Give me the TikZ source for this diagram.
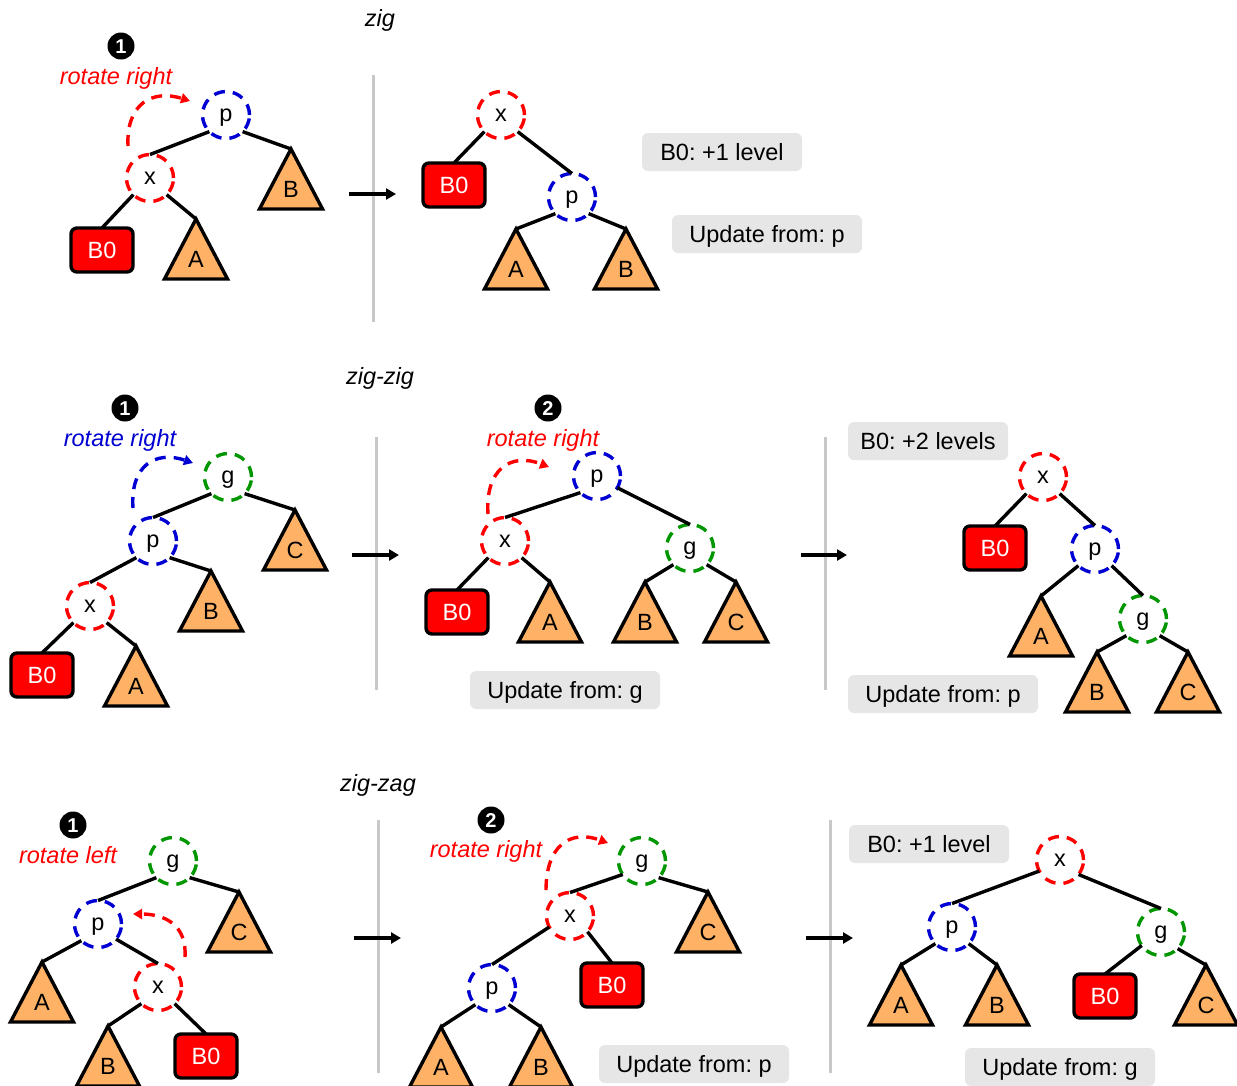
\documentclass[tikz,border=0pt]{standalone}
\usepackage{fontspec}
\setmainfont{Liberation Sans}
\usetikzlibrary{arrows.meta}
\frenchspacing

\definecolor{cR}{RGB}{255,0,0}
\definecolor{cB}{RGB}{0,0,210}
\definecolor{cG}{RGB}{0,150,0}
\definecolor{cO}{RGB}{255,178,102}
\definecolor{cL}{RGB}{230,230,230}
\definecolor{cS}{RGB}{200,200,200}

\newcommand\labfont{\fontsize{23.5}{28}\selectfont}
\newcommand\badgefont{\fontsize{20}{24}\selectfont\bfseries}

\tikzset{
  txt/.style={inner sep=0pt, outer sep=0pt, font=\labfont, text height=16.8pt, text depth=0pt},
  title/.style={txt, font=\labfont\itshape},
  treenode/.style={circle, line width=3.4pt, dash pattern=on 11pt off 8pt,
    minimum size=47pt, inner sep=0pt, outer sep=0pt, font=\labfont,
    text height=12.2pt, text depth=0pt},
  rn/.style={treenode, draw=cR},
  bn/.style={treenode, draw=cB},
  gn/.style={treenode, draw=cG},
  bzero/.style={rectangle, rounded corners=6pt, draw=black, fill=cR, line width=3.4pt,
    minimum width=62pt, minimum height=44pt, inner sep=0pt, outer sep=0pt,
    text=white, font=\labfont, text height=16.8pt, text depth=0pt},
  tri/.style={draw=black, fill=cO, line width=3.4pt, line join=miter},
  edge/.style={line width=3.4pt},
  tag/.style={fill=cL, rounded corners=6pt, minimum height=38pt, inner sep=0pt,
    font=\labfont, text height=16.8pt, text depth=0pt},
  tagA/.style={tag, minimum width=160pt},
  tagU/.style={tag, minimum width=190pt},
  badge/.style={circle, fill=black, minimum size=27pt, inner sep=0pt,
    text=white, font=\badgefont, text height=14.3pt, text depth=0pt},
  sepline/.style={draw=cS, line width=3pt},
  flow/.style={line width=3.4pt, -{Triangle[length=10pt,width=11pt]}},
  rot/.style={line width=3.4pt, dash pattern=on 11pt off 8pt,
    -{Triangle[length=9pt,width=10pt]}},
}

% subtree triangle: name, apex x, apex y, label
\newcommand\subtr[4]{%
  \coordinate (#1) at (#2,#3);
  \draw[tri] (#1) -- ++(-31.5,60) -- ++(63,0) -- cycle;
  \node[txt] (#1-l) at (#2,#3+40) {#4};
}

\begin{document}
\begin{tikzpicture}[x=1pt,y=-1pt]
\useasboundingbox (0,0) rectangle (1237,1085);

% ================= zig =================
\node[title] (t1) at (380,18) {zig};

% before
\node[badge] (k1) at (121,46) {1};
\node[txt, text=cR, font=\labfont\itshape] (r1) at (116,76) {rotate right};
\node[bn] (zp) at (226,115) {p};
\node[rn] (zx) at (150,178) {x};
\node[bzero] (zb0) at (102,250) {B0};
\subtr{zA}{196}{219}{A}
\subtr{zB}{291}{149}{B}
\draw[edge] (zp.225) -- (zx.north);
\draw[edge] (zp.315) -- (zB);
\draw[edge] (zx.225) -- (zb0.north);
\draw[edge] (zx.315) -- (zA);
\coordinate (z1s) at (128,146);
\coordinate (z1e) at (190,101);
\draw[rot, cR] (z1s) .. controls (126,104) and (152,89) .. (z1e);

\coordinate (s1a) at (373,75);
\coordinate (s1b) at (373,322);
\draw[sepline] (s1a) -- (s1b);
\coordinate (f1a) at (349,194);
\coordinate (f1b) at (396,194);
\draw[flow] (f1a) -- (f1b);

% after
\node[rn] (zx2) at (501,115) {x};
\node[bzero] (zb02) at (454,185) {B0};
\node[bn] (zp2) at (572,197) {p};
\subtr{zA2}{516}{229}{A}
\subtr{zB2}{626}{229}{B}
\draw[edge] (zx2.225) -- (zb02.north);
\draw[edge] (zx2.315) -- (zp2.north);
\draw[edge] (zp2.225) -- (zA2);
\draw[edge] (zp2.315) -- (zB2);

\node[tagA] (zl1) at (722,152) {B0: +1 level};
\node[tagU] (zl2) at (767,234) {Update from: p};

% ================= zig-zig =================
\node[title] (t2) at (380,376) {zig-zig};

% step 1
\node[badge] (k2) at (125,408) {1};
\node[txt, text=cB, font=\labfont\itshape] (r2) at (120,438) {rotate right};
\node[gn] (gg) at (228,477) {g};
\node[bn] (gp) at (153,541) {p};
\node[rn] (gx) at (90,606) {x};
\node[bzero] (gb0) at (42,675) {B0};
\subtr{gA}{136}{646}{A}
\subtr{gB}{211}{571}{B}
\subtr{gC}{295}{510}{C}
\draw[edge] (gg.225) -- (gp.north);
\draw[edge] (gg.315) -- (gC);
\draw[edge] (gp.225) -- (gx.north);
\draw[edge] (gp.315) -- (gB);
\draw[edge] (gx.225) -- (gb0.north);
\draw[edge] (gx.315) -- (gA);
\coordinate (g1s) at (133,508);
\coordinate (g1e) at (193,463);
\draw[rot, cB] (g1s) .. controls (130,466) and (155,450) .. (g1e);

\coordinate (s2a) at (376,437);
\coordinate (s2b) at (376,690);
\draw[sepline] (s2a) -- (s2b);
\coordinate (f2a) at (352,555);
\coordinate (f2b) at (399,555);
\draw[flow] (f2a) -- (f2b);

% step 2
\node[badge] (k3) at (548,408) {2};
\node[txt, text=cR, font=\labfont\itshape] (r3) at (543,438) {rotate right};
\node[bn] (hp) at (597,476) {p};
\node[rn] (hx) at (505,541) {x};
\node[gn] (hg) at (690,548) {g};
\node[bzero] (hb0) at (457,612) {B0};
\subtr{hA}{550}{582}{A}
\subtr{hB}{645}{582}{B}
\subtr{hC}{736}{582}{C}
\draw[edge] (hp.225) -- (hx.north);
\draw[edge] (hp.330) -- (hg.north);
\draw[edge] (hx.225) -- (hb0.north);
\draw[edge] (hx.315) -- (hA);
\draw[edge] (hg.225) -- (hB);
\draw[edge] (hg.315) -- (hC);
\coordinate (h1s) at (488,514);
\coordinate (h1e) at (549,467);
\draw[rot, cR] (h1s) .. controls (485,470) and (510,452) .. (h1e);

\node[tagU] (hl) at (565,690) {Update from: g};

\coordinate (s3a) at (825,437);
\coordinate (s3b) at (825,690);
\draw[sepline] (s3a) -- (s3b);
\coordinate (f3a) at (801,555);
\coordinate (f3b) at (847,555);
\draw[flow] (f3a) -- (f3b);

% result
\node[tagA] (il1) at (928,441) {B0: +2 levels};
\node[rn] (ix) at (1043,477) {x};
\node[bzero] (ib0) at (995,548) {B0};
\node[bn] (ip) at (1095,549) {p};
\node[gn] (ig) at (1143,619) {g};
\subtr{iA}{1041}{596}{A}
\subtr{iB}{1097}{652}{B}
\subtr{iC}{1188}{652}{C}
\draw[edge] (ix.225) -- (ib0.north);
\draw[edge] (ix.315) -- (ip.north);
\draw[edge] (ip.225) -- (iA);
\draw[edge] (ip.315) -- (ig.north);
\draw[edge] (ig.225) -- (iB);
\draw[edge] (ig.315) -- (iC);
\node[tagU] (il2) at (943,694) {Update from: p};

% ================= zig-zag =================
\node[title] (t3) at (378,783) {zig-zag};

% step 1
\node[badge] (k4) at (73,825) {1};
\node[txt, text=cR, font=\labfont\itshape] (r4) at (68,855) {rotate left};
\node[gn] (jg) at (173,861) {g};
\node[bn] (jp) at (98,924) {p};
\node[rn] (jx) at (158,987) {x};
\node[bzero] (jb0) at (206,1056) {B0};
\subtr{jA}{42}{962}{A}
\subtr{jB}{108}{1026}{B}
\subtr{jC}{239}{892}{C}
\draw[edge] (jg.225) -- (jp.north);
\draw[edge] (jg.315) -- (jC);
\draw[edge] (jp.225) -- (jA);
\draw[edge] (jp.320) -- (jx.north);
\draw[edge] (jx.225) -- (jB);
\draw[edge] (jx.315) -- (jb0.north);
\coordinate (j1s) at (185,957);
\coordinate (j1e) at (133,914);
\draw[rot, cR] (j1s) .. controls (187,926) and (166,914) .. (j1e);

\coordinate (s4a) at (378,820);
\coordinate (s4b) at (378,1073);
\draw[sepline] (s4a) -- (s4b);
\coordinate (f4a) at (354,938);
\coordinate (f4b) at (401,938);
\draw[flow] (f4a) -- (f4b);

% step 2
\node[badge] (k5) at (491,820) {2};
\node[txt, text=cR, font=\labfont\itshape] (r5) at (486,849) {rotate right};
\node[gn] (mg) at (642,861) {g};
\node[rn] (mx) at (570,916) {x};
\node[bn] (mp) at (492,988) {p};
\node[bzero] (mb0) at (612,985) {B0};
\subtr{mA}{441}{1027}{A}
\subtr{mB}{541}{1027}{B}
\subtr{mC}{708}{892}{C}
\draw[edge] (mg.215) -- (mx.north);
\draw[edge] (mg.315) -- (mC);
\draw[edge] (mx.208) -- (mp.north);
\draw[edge] (mx.318) -- (mb0.north);
\draw[edge] (mp.225) -- (mA);
\draw[edge] (mp.315) -- (mB);
\coordinate (m1s) at (546,890);
\coordinate (m1e) at (608,843);
\draw[rot, cR] (m1s) .. controls (546,846) and (570,829) .. (m1e);

\node[tagU] (ml) at (694,1064) {Update from: p};

\coordinate (s5a) at (830,820);
\coordinate (s5b) at (830,1073);
\draw[sepline] (s5a) -- (s5b);
\coordinate (f5a) at (806,938);
\coordinate (f5b) at (853,938);
\draw[flow] (f5a) -- (f5b);

% result
\node[tagA] (nl1) at (929,844) {B0: +1 level};
\node[rn] (nx) at (1060,860) {x};
\node[bn] (np) at (952,927) {p};
\node[gn] (ng) at (1161,932) {g};
\node[bzero] (nb0) at (1105,996) {B0};
\subtr{nA}{901}{965}{A}
\subtr{nB}{997}{965}{B}
\subtr{nC}{1206}{965}{C}
\draw[edge] (nx.208) -- (np.north);
\draw[edge] (nx.322) -- (ng.north);
\draw[edge] (np.225) -- (nA);
\draw[edge] (np.315) -- (nB);
\draw[edge] (ng.215) -- (nb0.north);
\draw[edge] (ng.315) -- (nC);
\node[tagU] (nl2) at (1060,1067) {Update from: g};
\end{tikzpicture}
\end{document}
